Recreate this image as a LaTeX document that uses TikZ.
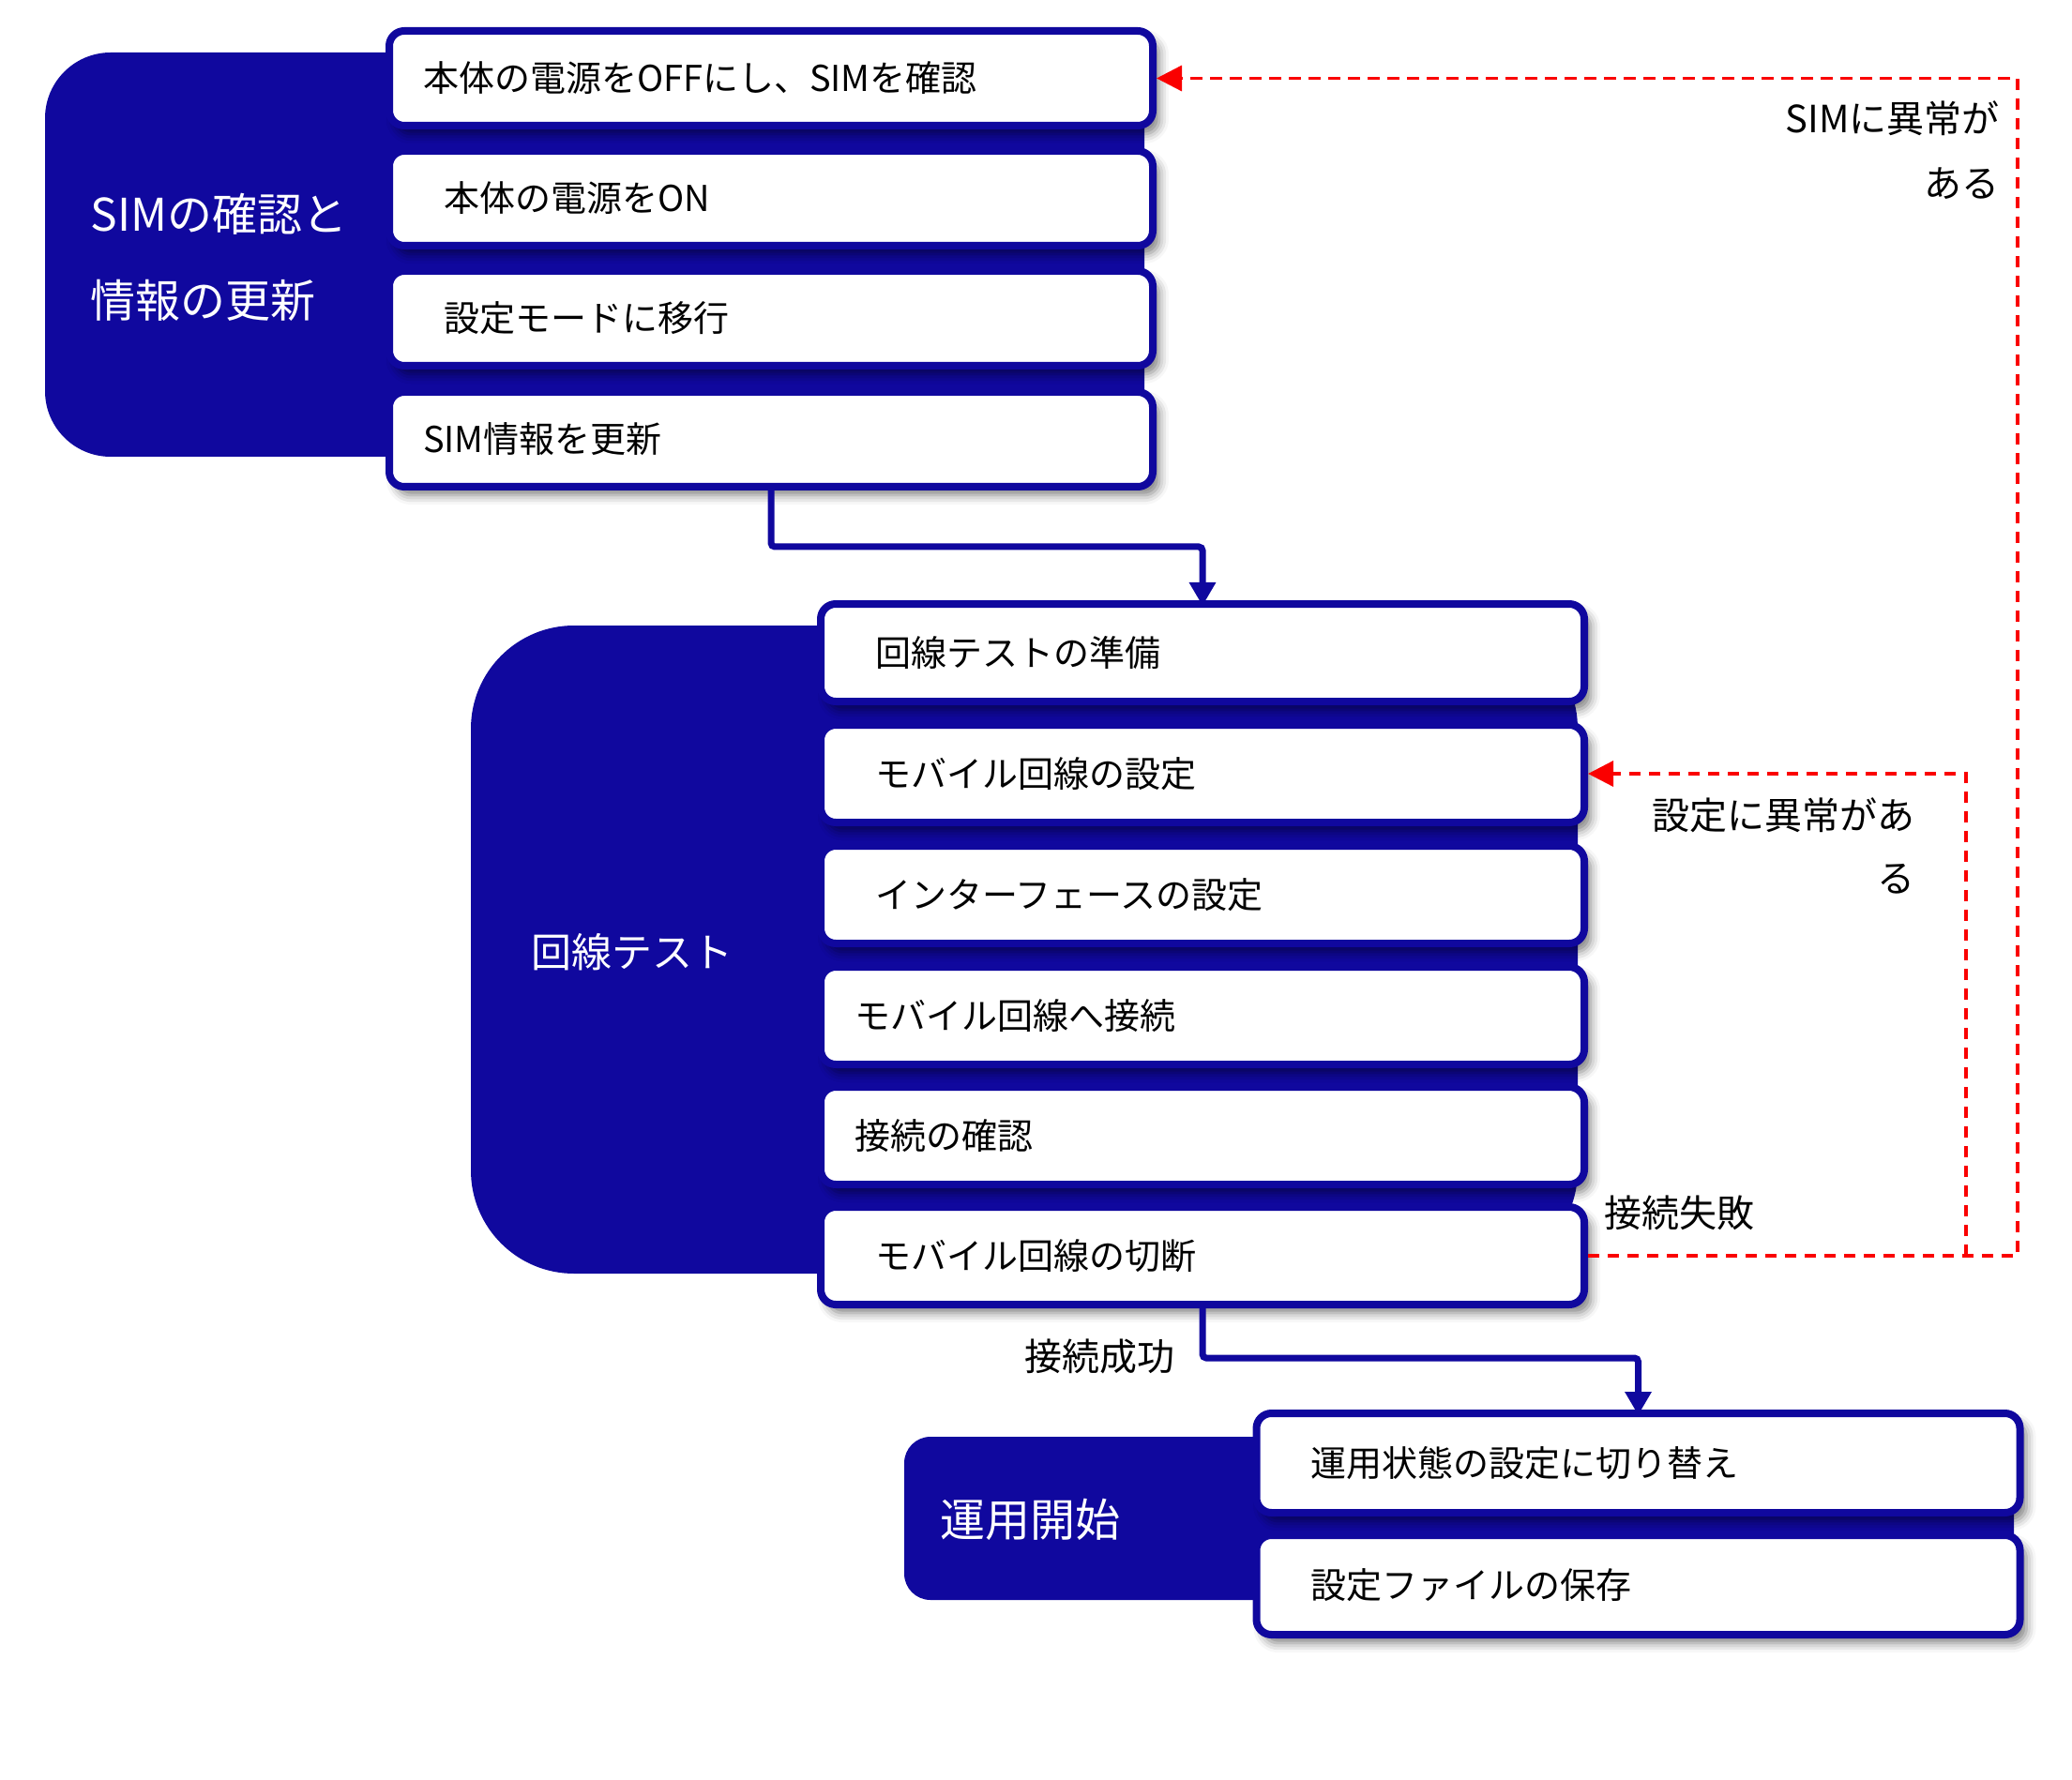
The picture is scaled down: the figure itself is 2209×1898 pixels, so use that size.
\documentclass[tikz,border=0pt]{standalone}
\usepackage{fontspec}
\setmainfont{Noto Sans CJK JP}
\usetikzlibrary{arrows.meta,shadows.blur}
\definecolor{navy}{RGB}{16,8,158}
\definecolor{dred}{RGB}{250,0,0}
\begin{document}
\begin{tikzpicture}[x=0.5pt,y=-0.5pt,
  cont/.style={fill=navy, draw=none, inner sep=0pt},
  boxbase/.style={draw=navy, line width=4pt, fill=white, rounded corners=8pt,
    align=left, inner ysep=0pt, font=\fontsize{19}{23}\selectfont,
    blur shadow={shadow xshift=3.5pt, shadow yshift=-4.5pt, shadow blur radius=5pt, shadow opacity=50}},
  boxA/.style={boxbase, inner xsep=18pt, text width=371pt, minimum height=#1},
  boxB/.style={boxbase, inner xsep=29pt, text width=349pt, minimum height=#1},
  grplabel/.style={text=white, inner sep=0pt, align=left},
  lbl/.style={text=black, inner sep=0pt, font=\fontsize{20}{24}\selectfont},
  conn/.style={draw=navy, line width=3.5pt, rounded corners=2pt, -{Triangle[width=13.5pt,length=12.5pt]}},
  redc/.style={draw=dred, line width=1.7pt, dash pattern=on 6.2pt off 4.3pt, -{Triangle[width=13.5pt,length=13.5pt]}}
]
\useasboundingbox (0,0) rectangle (2209,1898);

% containers
\node[cont, minimum width=586pt, minimum height=215.5pt, rounded corners=35pt] (g1) at (634,271.5) {};
\node[cont, minimum width=590pt, minimum height=345.5pt, rounded corners=55pt] (g2) at (1092,1012.5) {};
\node[cont, minimum width=591.5pt, minimum height=87pt, rounded corners=14pt] (g3) at (1555.5,1619) {};

% group labels
\node[grplabel, anchor=west, font=\fontsize{24}{46}\selectfont] (g1l) at (96,274) {SIMの確認と\\情報の更新};
\node[grplabel, anchor=west, font=\fontsize{21.5}{26}\selectfont] (g2l) at (566,1015) {回線テスト};
\node[grplabel, anchor=west, font=\fontsize{24}{28}\selectfont] (g3l) at (1002,1620) {運用開始};

% group 1 boxes
\node[boxA=50.5pt] (b11) at (822,83.5) {本体の電源をOFFにし、SIMを確認};
\node[boxB=50.5pt] (b12) at (822,211.5) {本体の電源をON};
\node[boxB=50.5pt] (b13) at (822,339.5) {設定モードに移行};
\node[boxA=50.5pt] (b14) at (822,468.5) {SIM情報を更新};

% group 2 boxes
\node[boxB=52pt] (b21) at (1282,696) {回線テストの準備};
\node[boxB=52pt] (b22) at (1282,825) {モバイル回線の設定};
\node[boxB=52pt] (b23) at (1282,954) {インターフェースの設定};
\node[boxA=52pt] (b24) at (1282,1083) {モバイル回線へ接続};
\node[boxA=52pt] (b25) at (1282,1211) {接続の確認};
\node[boxB=52pt] (b26) at (1282,1339) {モバイル回線の切断};

% group 3 boxes
\node[boxB=53pt] (b31) at (1746.5,1560) {運用状態の設定に切り替え};
\node[boxB=53pt] (b32) at (1746.5,1690) {設定ファイルの保存};

% connectors
\coordinate (k1) at (822,583);
\coordinate (k2) at (1282,1448);
\draw[conn, shorten >=-3pt] (b14.south) -- (k1) -| (b21.north);
\draw[conn, shorten >=-3pt] (b26.south) -- (k2) -| (b31.north);

\coordinate (r1) at (2151,1339);
\coordinate (r2) at (2096,1339);
\draw[redc] (b26.east) -- (r1) |- (b11.east);
\draw[redc] (r2) |- (b22.east);

% labels
\node[lbl, anchor=east, align=right, font=\fontsize{20}{34.5}\selectfont] (l1) at (2132,160.5) {SIMに異常が\\ある};
\node[lbl, anchor=east, align=right, font=\fontsize{20}{33.5}\selectfont] (l2) at (2042,901.5) {設定に異常があ\\る};
\node[lbl, anchor=west] (l3) at (1710,1293) {接続失敗};
\node[lbl, anchor=west] (l4) at (1092,1446) {接続成功};
\end{tikzpicture}
\end{document}
